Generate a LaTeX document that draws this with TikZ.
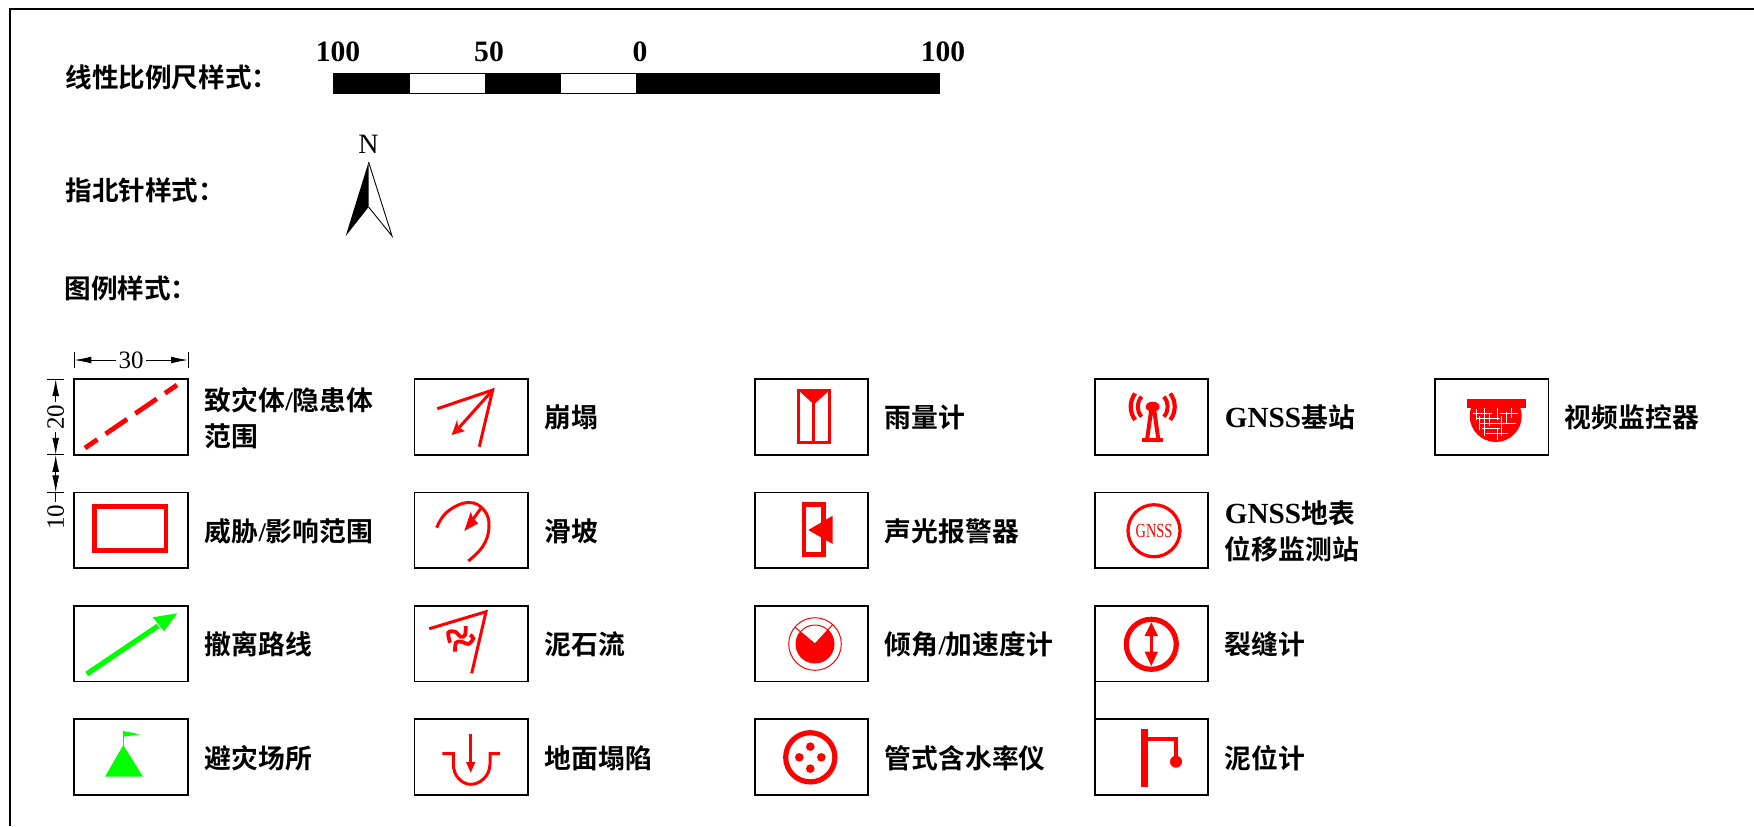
\documentclass[tikz,border=0pt]{standalone}
\usepackage{fontspec}
\setmainfont{Liberation Serif}
\newfontfamily\cjk{Noto Sans CJK SC}[BoldFont={Noto Sans CJK SC Bold}]
\usetikzlibrary{arrows.meta}
\definecolor{rd}{RGB}{255,0,0}
\definecolor{gn}{RGB}{0,255,0}
\newcommand{\lslash}{{\rmfamily/}}
\tikzset{
 legbox/.style={draw=black,line width=0.9pt,rectangle,anchor=north west,inner sep=0,outer sep=0,minimum width=56.7pt,minimum height=37.8pt},
 lab/.style={anchor=west,inner sep=0,align=left,font=\fontsize{13.4}{18}\selectfont\bfseries\cjk},
 labg/.style={anchor=west,inner sep=0,align=left,font=\fontsize{14.6}{18}\selectfont\bfseries},
 title/.style={anchor=west,inner sep=0,font=\fontsize{13.3}{16}\selectfont\bfseries\cjk},
 num/.style={inner sep=0,font=\fontsize{14.8}{16}\selectfont\bfseries},
 dimt/.style={inner sep=1pt,fill=white,font=\fontsize{12.5}{13}\selectfont},
 dimln/.style={line width=0.45pt},
 dimar/.style={line width=0.45pt,-{Latex[length=8.5pt,width=3.4pt]}},
 rl/.style={draw=rd,line width=1.5pt,line join=miter},
 gl/.style={draw=gn,line width=2.6pt},
}
\begin{document}
\begin{tikzpicture}[x=0.5pt,y=-0.5pt]
\useasboundingbox (0,0) rectangle (1754,826);
\fill[white] (0,0) rectangle (1754,826);
% frame
\coordinate (fa) at (10,826); \coordinate (fb) at (10,9); \coordinate (fc) at (1754,9);
\draw[line width=0.9pt] (fa) -- (fb) -- (fc);
% titles
\node[title] (t1) at (65,77) {线性比例尺样式：};
\node[title] (t2) at (65,190) {指北针样式：};
\node[title] (t3) at (64,288) {图例样式：};
% scale bar
\fill (333,73) rectangle (409.5,93);
\fill (484.7,73) rectangle (561,93);
\fill (636,73) rectangle (939,93);
\draw[line width=0.5pt] (333,73) rectangle (939,93);
\node[num] (s1) at (338,52) {100};
\node[num] (s2) at (489,52) {50};
\node[num] (s3) at (640,52) {0};
\node[num] (s4) at (943,52) {100};
% north arrow
\node[inner sep=0,font=\fontsize{14}{15}\selectfont] (nn) at (368.6,144) {N};
\fill (368.6,162) -- (345.7,236) -- (368.6,207) -- cycle;
\draw[line width=0.45pt] (368.6,162) -- (392,236) -- (368.6,207);
% boxes
\foreach \c/\xx in {1/74.3,2/414.5,3/754.7,4/1094.9}{
 \foreach \r/\yy in {1/379,2/492.4,3/605.8,4/719.2}{
  \node[legbox] (b\c\r) at (\xx,\yy) {};
 }
}
\node[legbox] (b51) at (1435,379) {};
\draw[line width=0.9pt] (b43.south west) -- (b44.north west);
% labels
\node[lab] (l11) at (204.5,418) {致灾体\lslash 隐患体\\范围};
\node[lab] (l12) at (204.5,531) {威胁\lslash 影响范围};
\node[lab] (l13) at (204.5,644) {撤离路线};
\node[lab] (l14) at (204.5,758) {避灾场所};
\node[lab] (l21) at (544.5,417) {崩塌};
\node[lab] (l22) at (544.5,531) {滑坡};
\node[lab] (l23) at (544.5,644) {泥石流};
\node[lab] (l24) at (544.5,758) {地面塌陷};
\node[lab] (l31) at (884.5,417) {雨量计};
\node[lab] (l32) at (884.5,531) {声光报警器};
\node[lab] (l33) at (884.5,644) {倾角\lslash 加速度计};
\node[lab] (l34) at (884.5,758) {管式含水率仪};
\node[labg] (l41) at (1224.5,417) {GNSS{\fontsize{13.4}{18}\selectfont\cjk 基站}};
\node[labg] (l42) at (1224.5,531) {GNSS{\fontsize{13.4}{18}\selectfont\cjk 地表}\\{\fontsize{13.4}{18}\selectfont\cjk 位移监测站}};
\node[lab] (l43) at (1224.5,644) {裂缝计};
\node[lab] (l44) at (1224.5,758) {泥位计};
\node[lab] (l51) at (1564.5,417) {视频监控器};
% dimensions
\coordinate (dh1) at (74.3,360); \coordinate (dh2) at (188,360);
\draw[dimln] (74.3,352) -- (74.3,368) (188,352) -- (188,368);
\node[dimt] (d30) at (131,360) {30};
\draw[dimar] (d30) -- (dh1);
\draw[dimar] (d30) -- (dh2);
\draw[dimln] (47,379) -- (64,379) (47,454.8) -- (64,454.8) (47,492.4) -- (64,492.4);
\coordinate (dv1) at (55.7,379); \coordinate (dv2) at (55.7,454.8); \coordinate (dv3) at (55.7,492.4);
\node[dimt,rotate=90] (d20) at (55.7,417) {20};
\node[dimt,rotate=90,fill=none] (d10) at (55.7,517) {10};
\draw[dimar] (d20) -- (dv1);
\draw[dimar] (d20) -- (dv2);
\coordinate (dm) at (55.7,473);
\draw[dimar] (dm) -- (dv2);
\draw[dimar] (dm) -- (dv3);
\draw[dimln] (dv3) -- (d10);
% c1 r1 dashed
\draw[draw=rd,line width=2.4pt,dash pattern=on 13pt off 5pt,dash phase=5.5pt] (85,448) -- (177,385);
% c1 r2
\draw[draw=rd,line width=2.3pt] (94.7,506.7) rectangle (166,550.7);
% c1 r3
\draw[gl] (86.7,674) -- (158,626);
\fill[gn] (177.3,613.3) -- (164,631.3) -- (159,625) -- (152.7,617.3) -- cycle;
% c1 r4
\fill[gn] (123.3,745) -- (105,776.7) -- (143,776.7) -- cycle;
\draw[gn,line width=0.7pt] (123.3,746) -- (123.3,731);
\fill[gn] (123.3,731) -- (140,734.3) -- (123.3,736.7) -- cycle;
% c2 r1
\draw[rl] (437.3,408.7) -- (492.7,390) -- (479.3,446.7);
\draw[rl] (492.7,390) -- (456,431);
\fill[rd] (451.7,435) -- (457.3,419.3) -- (458,427) -- (465,431) -- cycle;
% c2 r2
\draw[rl] plot[smooth,tension=0.7] coordinates {(436.7,527.7) (447,512) (468,502.5) (484,510) (489,526.7) (483,546) (468.3,561)};
\draw[rl] (481.7,507.3) -- (468,526);
\fill[rd] (464.3,531) -- (470.7,511.7) -- (473,518) -- (478.3,523.3) -- cycle;
% c2 r3
\draw[rl] (429.3,628.7) -- (486,611.7) -- (471.7,673.3);
\begin{scope}[shift={(420,600)},x=0.1667pt,y=-0.1667pt]
\draw[rl,line width=1.9pt] plot[smooth,tension=0.6] coordinates {(90,128) (85,98) (105,95) (122,110) (135,105) (137,78)};
\draw[rl,line width=1.9pt] plot[smooth,tension=0.6] coordinates {(105,155) (108,128) (125,125) (145,132) (160,115) (150,105)};
\end{scope}
% c2 r4
\draw[rl] (442.3,753.7) -- (453.3,753.7) -- (453.3,764) .. controls (453.3,776) and (462,784.3) .. (470.7,784.3) .. controls (480,784.3) and (490,776) .. (490,764) -- (490,753.7) -- (500,753.7);
\draw[rl] (470.7,734) -- (470.7,765);
\fill[rd] (470.7,772.7) -- (466,762) -- (475.4,762) -- cycle;
% c3 r1
\draw[draw=rd,line width=1.4pt] (798.3,390) rectangle (829.3,442.7);
\fill[rd] (797.3,389.3) -- (830.3,389.3) -- (814,404.5) -- cycle;
\draw[draw=rd,line width=1.2pt] (813.6,402) -- (813.6,442.7);
% c3 r2
\draw[draw=rd,line width=2.3pt] (804,504.5) rectangle (823.5,554.5);
\fill[rd] (808.3,530) -- (832.7,515.7) -- (832.7,544) -- cycle;
% c3 r3
\coordinate (tc) at (815,644);
\draw[rd,line width=0.5pt] (tc) circle[radius=26.3];
\draw[rd,line width=0.5pt] (tc) circle[radius=19];
\fill[rd] (tc) -- ([shift={(-140:19)}]tc) arc[start angle=-140,end angle=-407.6,radius=19] -- cycle;
\draw[rd,line width=0.5pt] (tc) -- ([shift={(-140:26.3)}]tc);
\draw[rd,line width=0.5pt] (tc) -- ([shift={(-47.6:26.3)}]tc);
% c3 r4
\draw[rd,line width=2.6pt] (810.3,757.3) circle[radius=24.6];
\fill[rd] (810.3,746.6) circle[radius=4.3] (810.3,768.6) circle[radius=4.3] (799.3,757.3) circle[radius=4.3] (821.3,757.3) circle[radius=4.3];
% c4 r1
\coordinate (gc) at (1152.7,406.7);
\fill[rd] (1141.7,438) rectangle (1163.3,442.3);
\draw[draw=rd,line width=2pt] (1147,440) -- (1151.5,408) (1158.4,440) -- (1153.9,408);
\fill[rd] (gc) ellipse[x radius=7,y radius=5];
\draw[draw=rd,line width=2pt] ([shift={(138:15)}]gc) arc[start angle=138,end angle=222,radius=15];
\draw[draw=rd,line width=2pt] ([shift={(42:15)}]gc) arc[start angle=42,end angle=-42,radius=15];
\draw[draw=rd,line width=2.1pt] ([shift={(143:22)}]gc) arc[start angle=143,end angle=217,radius=22];
\draw[draw=rd,line width=2.1pt] ([shift={(37:22)}]gc) arc[start angle=37,end angle=-37,radius=22];
% c4 r2
\draw[rd,line width=1.6pt] (1154,530.7) circle[radius=26];
\node[inner sep=0,text=rd,font=\fontsize{10}{12}\selectfont,xscale=0.72] (gnss) at (1154,531) {GNSS};
% c4 r3
\draw[rd,line width=2.6pt] (1151.3,644.3) circle[radius=25];
\draw[rd,line width=1.5pt] (1151.3,634) -- (1151.3,654);
\fill[rd] (1151.3,622.3) -- (1144.6,636) -- (1158,636) -- cycle;
\fill[rd] (1151.3,666) -- (1144.6,651.7) -- (1158,651.7) -- cycle;
% c4 r4
\fill[rd] (1140.5,729.3) rectangle (1147.5,787.3);
\draw[rd,line width=2pt] (1144,738.5) -- (1176,738.5) -- (1176,760);
\fill[rd] (1176,761.7) circle[radius=6];
% c5 r1
\fill[rd] (1467,399.3) rectangle (1525.7,407.7);
\begin{scope}
\clip (1469,407) rectangle (1523,443);
\fill[rd] (1495.7,416) circle[radius=26];
\draw[white,line width=0.5pt] (1476,409) -- (1476,420) (1479,416) -- (1479,430) (1484,408) -- (1484,436) (1489,414) -- (1489,426) (1497,408) -- (1497,420) (1497,428) -- (1497,440) (1501,416) -- (1501,436) (1506,412) -- (1506,424) (1511,408) -- (1511,418);
\draw[white,line width=0.5pt] (1473,413) -- (1492,413) (1500,413) -- (1518,413) (1476,418) -- (1500,418) (1480,423) -- (1516,423) (1482,428) -- (1500,428) (1486,433) -- (1508,433);
\end{scope}
\end{tikzpicture}
\end{document}
